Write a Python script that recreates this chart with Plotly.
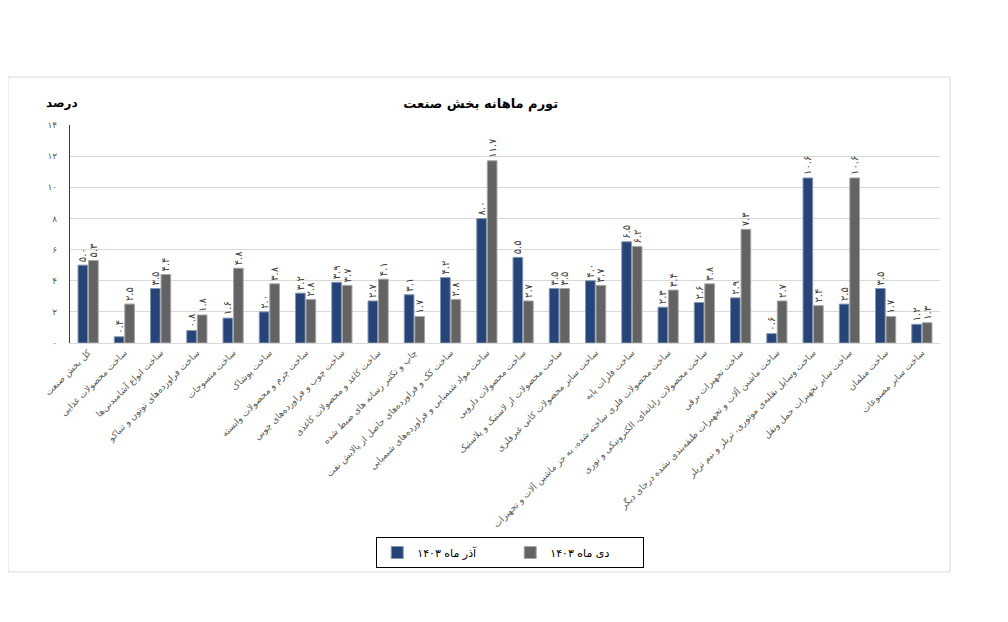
import plotly.graph_objects as go

# categories (industry sub-sectors)
categories = [
    "کل بخش صنعت",
    "ساخت محصولات غذایی",
    "ساخت انواع آشامیدنی‌ها",
    "ساخت فراورده‌های توتون و تنباکو",
    "ساخت منسوجات",
    "ساخت پوشاک",
    "ساخت چرم و محصولات وابسته",
    "ساخت چوب و فراورده‌های چوبی",
    "ساخت کاغذ و محصولات کاغذی",
    "چاپ و تکثیر رسانه های ضبط شده",
    "ساخت کک و فراورده‌های حاصل از پالایش نفت",
    "ساخت مواد شیمیایی و فراورده‌های شیمیایی",
    "ساخت محصولات دارویی",
    "ساخت محصولات از لاستیک و پلاستیک",
    "ساخت سایر محصولات کانی غیرفلزی",
    "ساخت فلزات پایه",
    "ساخت محصولات فلزی ساخته شده، به جز ماشین آلات و تجهیزات",
    "ساخت محصولات رایانه‌ای، الکترونیکی و نوری",
    "ساخت تجهیزات برقی",
    "ساخت ماشین آلات و تجهیزات طبقه‌بندی نشده درجای دیگر",
    "ساخت وسایل نقلیه‌ی موتوری، تریلر و نیم تریلر",
    "ساخت سایر تجهیزات حمل ونقل",
    "ساخت مبلمان",
    "ساخت سایر مصنوعات",
]

azar_1403 = [5.0, 0.4, 3.5, 0.8, 1.6, 2.0, 3.2, 3.9, 2.7, 3.1, 4.2, 8.0,
             5.5, 3.5, 4.0, 6.5, 2.3, 2.6, 2.9, 0.6, 10.6, 2.5, 3.5, 1.2]
dey_1403 = [5.3, 2.5, 4.4, 1.8, 4.8, 3.8, 2.8, 3.7, 4.1, 1.7, 2.8, 11.7,
            2.7, 3.5, 3.7, 6.2, 3.4, 3.8, 7.3, 2.7, 2.4, 10.6, 1.7, 1.3]

y_ticks = [0, 2, 4, 6, 8, 10, 12, 14]

FA_DIGITS = str.maketrans("0123456789", "۰۱۲۳۴۵۶۷۸۹")


def fa(v):
    return str(v).translate(FA_DIGITS)


FONT = "Tahoma, DejaVu Sans, sans-serif"

fig = go.Figure()

fig.add_trace(go.Bar(
    x=categories, y=azar_1403, name="آذر ماه " + fa(1403),
    marker=dict(color="#264478", line=dict(color="#8497b0", width=1)),
    text=[fa(f"{v:.1f}") for v in azar_1403],
    textposition="outside", textangle=-90, constraintext="none",
    textfont=dict(size=10, color="#404040", family=FONT),
    cliponaxis=False,
))
fig.add_trace(go.Bar(
    x=categories, y=dey_1403, name="دی ماه " + fa(1403),
    marker=dict(color="#636363", line=dict(color="#a6a6a6", width=1)),
    text=[fa(f"{v:.1f}") for v in dey_1403],
    textposition="outside", textangle=-90, constraintext="none",
    textfont=dict(size=10, color="#404040", family=FONT),
    cliponaxis=False,
))

fig.update_layout(
    width=1008, height=622,
    paper_bgcolor="white", plot_bgcolor="white",
    margin=dict(l=62, r=76, t=117, b=287),
    font=dict(family=FONT, size=10, color="#595959"),
    barmode="group", bargap=0.42, bargroupgap=0.08,
    title=dict(text="<b>تورم ماهانه بخش صنعت</b>", x=0.469, xanchor="center",
               y=0.847, yanchor="middle",
               font=dict(size=13, color="black", family=FONT)),
    legend=dict(orientation="h", x=0.506, xanchor="center", y=-0.89, yanchor="top",
                bordercolor="black", borderwidth=1, entrywidth=88,
                traceorder="normal",
                font=dict(size=11, color="black", family=FONT)),
    showlegend=True,
)

fig.update_xaxes(
    tickangle=-45, tickfont=dict(size=9, color="#595959"),
    showline=True, linecolor="#d9d9d9", ticks="",
)
fig.update_yaxes(
    range=[0, 14], tickvals=y_ticks, ticktext=[fa(t) for t in y_ticks],
    showgrid=True, gridcolor="#d9d9d9", gridwidth=1,
    showline=True, linecolor="#404040", linewidth=1,
    zeroline=False, tickfont=dict(size=9, color="#595959"),
    ticklabelstandoff=10,
)

# outer chart border
fig.add_shape(type="rect", xref="paper", yref="paper",
              x0=-0.0713, x1=1.0115, y0=-1.05, y1=1.22,
              line=dict(color="#d9d9d9", width=1), layer="below")

fig.add_annotation(text="<b>درصد</b>", xref="paper", yref="paper",
                   x=0.0115, y=1.10, xanchor="right", yanchor="middle",
                   showarrow=False, font=dict(size=12, color="black", family=FONT))

fig.write_html("out.html")
